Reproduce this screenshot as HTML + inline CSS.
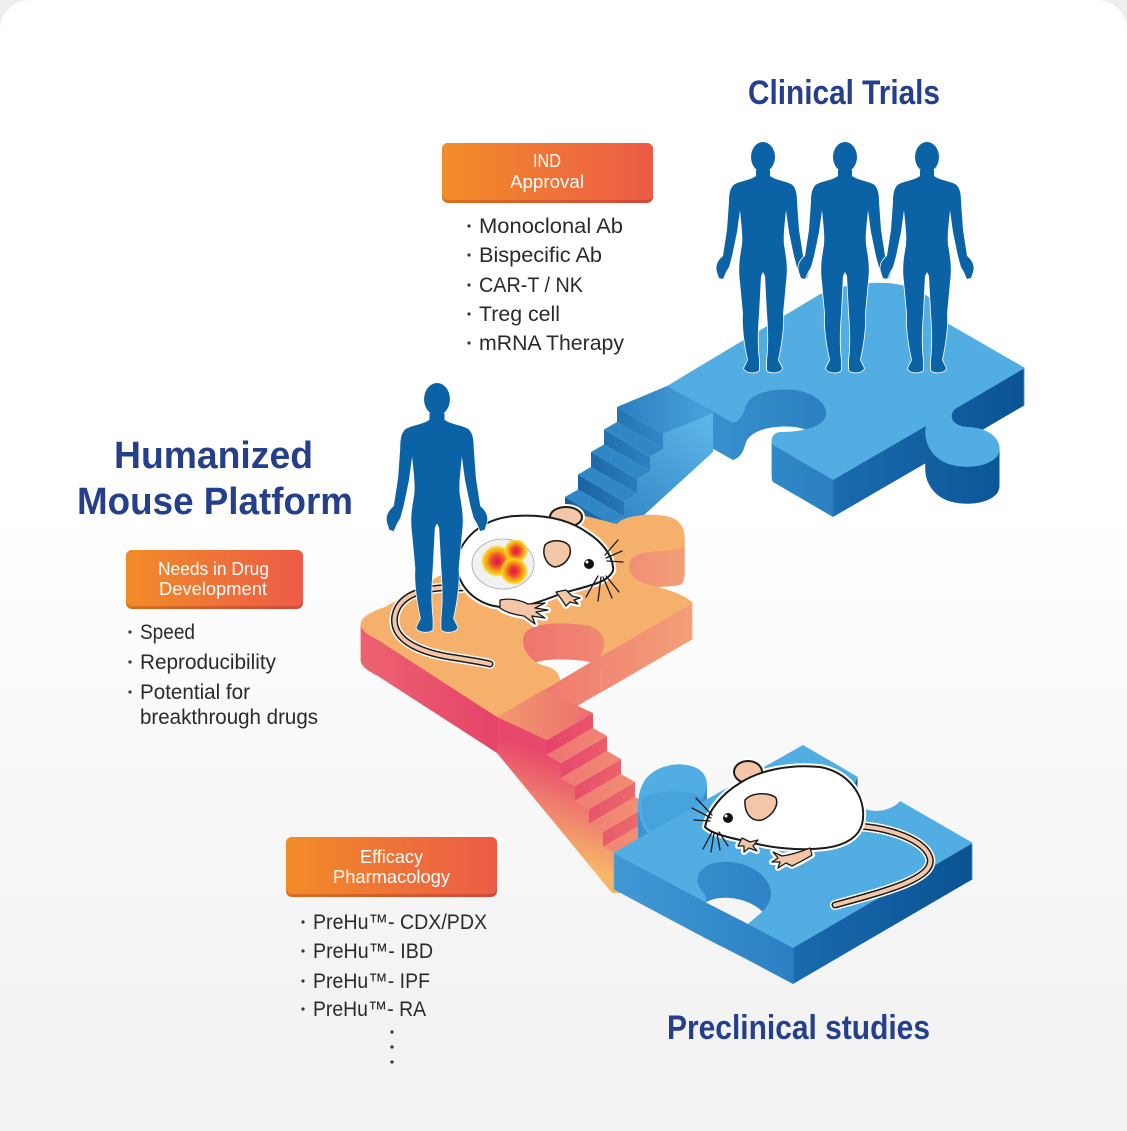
<!DOCTYPE html>
<html><head><meta charset="utf-8"><style>
html,body{margin:0;padding:0;}
body{width:1127px;height:1131px;overflow:hidden;background:#eeeeee;position:relative;font-family:"Liberation Sans","Noto Sans CJK KR",sans-serif;}
.card{position:absolute;left:0;top:0;width:1127px;height:1131px;border-radius:30px 30px 0 0;background:linear-gradient(180deg,#ffffff 0%,#ffffff 45%,#f3f3f3 88%,#f3f3f3 100%);}
svg{position:absolute;left:0;top:0;}
</style></head><body>
<div class="card"></div>
<svg width="1127" height="1131" viewBox="0 0 1127 1131" xmlns="http://www.w3.org/2000/svg">
<defs>
<linearGradient id="tbSide" gradientUnits="userSpaceOnUse" x1="660" y1="0" x2="1030" y2="0">
<stop offset="0" stop-color="#3e96d3"/><stop offset="0.466" stop-color="#2a80c0"/><stop offset="0.472" stop-color="#1a6baf"/><stop offset="1" stop-color="#0a5394"/></linearGradient>
<linearGradient id="opSide" gradientUnits="userSpaceOnUse" x1="355" y1="0" x2="695" y2="0">
<stop offset="0" stop-color="#ec6470"/><stop offset="0.417" stop-color="#e6436a"/><stop offset="0.43" stop-color="#ee6e6e"/><stop offset="1" stop-color="#f3a078"/></linearGradient>
<linearGradient id="bbSide" gradientUnits="userSpaceOnUse" x1="610" y1="0" x2="975" y2="0">
<stop offset="0" stop-color="#4199d6"/><stop offset="0.5" stop-color="#2a80c2"/><stop offset="0.507" stop-color="#1a6aad"/><stop offset="1" stop-color="#0a5293"/></linearGradient>
<linearGradient id="bsSide" gradientUnits="userSpaceOnUse" x1="713" y1="415" x2="600" y2="565">
<stop offset="0" stop-color="#5fb8ea"/><stop offset="1" stop-color="#2277b8"/></linearGradient>
<linearGradient id="bsRiser" gradientUnits="userSpaceOnUse" x1="560" y1="0" x2="660" y2="0">
<stop offset="0" stop-color="#145b9b"/><stop offset="1" stop-color="#2f87c6"/></linearGradient>
<linearGradient id="bsLand" gradientUnits="userSpaceOnUse" x1="617" y1="0" x2="713" y2="0">
<stop offset="0" stop-color="#2a7ebf"/><stop offset="1" stop-color="#4aa4dd"/></linearGradient>
<linearGradient id="osStr" gradientUnits="userSpaceOnUse" x1="535" y1="850" x2="565" y2="760">
<stop offset="0" stop-color="#f6b66a"/><stop offset="0.55" stop-color="#ee7a6e"/><stop offset="1" stop-color="#e8486b"/></linearGradient>
<linearGradient id="osRiser" gradientUnits="userSpaceOnUse" x1="547" y1="0" x2="677" y2="0">
<stop offset="0" stop-color="#e6436a"/><stop offset="1" stop-color="#ee7a6e"/></linearGradient>
<linearGradient id="osTread" gradientUnits="userSpaceOnUse" x1="547" y1="0" x2="677" y2="0">
<stop offset="0" stop-color="#ee7470"/><stop offset="1" stop-color="#f39a74"/></linearGradient>
<linearGradient id="osLand" gradientUnits="userSpaceOnUse" x1="497" y1="0" x2="593" y2="0">
<stop offset="0" stop-color="#f29a6e"/><stop offset="1" stop-color="#ec6e6e"/></linearGradient>
<linearGradient id="box" x1="0" y1="0" x2="1" y2="0">
<stop offset="0" stop-color="#f28c28"/><stop offset="1" stop-color="#ec5b47"/></linearGradient>
<linearGradient id="boxD" x1="0" y1="0" x2="1" y2="0">
<stop offset="0" stop-color="#d9701e"/><stop offset="1" stop-color="#d2473a"/></linearGradient>
<radialGradient id="tum">
<stop offset="0" stop-color="#e3104f"/><stop offset="0.35" stop-color="#ee4a2c"/><stop offset="0.65" stop-color="#f7a21b"/><stop offset="0.85" stop-color="#f9d11c"/><stop offset="1" stop-color="#f9d11c" stop-opacity="0"/></radialGradient>

<path id="tbTop" d="M 667,386 L 817,296 C 832,286 878,278 905,286 C 930,293 944,308 947,323 L 1025,368 L 955,409 C 948,416 952,426 968,427 C 992,428 1004,442 998,455 C 990,468 960,470 944,462 C 930,455 923,440 926,426 L 833,480 L 773,445 C 770,440 772,433 780,432 C 800,432 820,428 825,418 C 830,405 815,393 795,390 C 775,388 752,392 746,405 C 744,412 742,420 733,423 Z"/>
<path id="opTop" d="M 378,640 Q 340,622 385,607 L 553,511 C 575,512 600,520 617,524 C 622,516 650,512 670,517 C 686,522 687,540 682,548 C 670,553 645,548 632,558 C 625,568 630,580 650,585 C 670,590 685,595 693,603 L 600,657 C 608,645 605,628 585,625 C 560,622 530,622 524,635 C 520,648 530,662 545,666 C 555,668 560,674 560,681 L 497,717 Z"/>
<path id="bbTop" d="M 613,853 L 648,833 C 640,825 632,800 645,780 C 658,762 690,760 702,772 C 712,782 705,800 695,806 L 803,745 L 858,777 C 850,790 852,805 868,810 C 880,813 895,808 900,801 L 973,843 L 793,948 L 748,924 C 758,915 775,905 770,888 C 765,870 740,860 720,862 C 700,864 693,878 700,888 C 705,895 708,898 705,902 Z"/>
<path id="human" d="M -7,28 L -7,34 C -12,38 -22,39 -28,42 C -33,45 -34,52 -34,60 L -36,88 L -40,114 C -45,118 -48,124 -46,130 L -44,136 L -40,137 L -37,130 L -34,125 L -31,114 L -26,90 L -23,68 C -22,80 -20,92 -21,103 C -23,115 -25,125 -23,140 L -20,172 C -21,182 -19,200 -15,218 L -19,226 C -19,231 -6,232 -4,228 L -4,218 C -6,200 -5,185 -4,172 L -2,134 L 0,130 L 2,134 L 4,172 C 5,185 6,200 4,218 L 4,228 C 6,232 19,231 19,226 L 15,218 C 19,200 21,182 20,172 L 23,140 C 25,125 23,115 21,103 C 20,92 22,80 23,68 L 26,90 L 31,114 L 34,125 L 37,130 L 40,137 L 44,136 L 46,130 C 48,124 45,118 40,114 L 36,88 L 34,60 C 34,52 33,45 28,42 C 22,39 12,38 7,34 L 7,28 Z M -12,15 A 12,15 0 1,0 12,15 A 12,15 0 1,0 -12,15 Z"/>
</defs>

<!-- ===== Top blue piece ===== -->
<g fill="url(#tbSide)">
<use href="#tbTop" transform="translate(0,37)"/><use href="#tbTop" transform="translate(0,35)"/><use href="#tbTop" transform="translate(0,33)"/><use href="#tbTop" transform="translate(0,31)"/><use href="#tbTop" transform="translate(0,29)"/><use href="#tbTop" transform="translate(0,27)"/><use href="#tbTop" transform="translate(0,25)"/><use href="#tbTop" transform="translate(0,23)"/><use href="#tbTop" transform="translate(0,21)"/><use href="#tbTop" transform="translate(0,19)"/><use href="#tbTop" transform="translate(0,17)"/><use href="#tbTop" transform="translate(0,15)"/><use href="#tbTop" transform="translate(0,13)"/><use href="#tbTop" transform="translate(0,11)"/><use href="#tbTop" transform="translate(0,9)"/><use href="#tbTop" transform="translate(0,7)"/><use href="#tbTop" transform="translate(0,5)"/><use href="#tbTop" transform="translate(0,3)"/><use href="#tbTop" transform="translate(0,1)"/>
</g>
<use href="#tbTop" fill="#52aee2"/>

<!-- blue stairs -->
<polygon points="713,413 663,434 663,449 650,456.5 650,471.5 637,479 637,494 624,501.5 624,516.5 611,524 611,539 598,546.5 598,561.5 585,569 713,452" fill="url(#bsSide)"/>
<polygon points="667,386 713,413 663,434 617,407" fill="url(#bsLand)"/>
<g fill="url(#bsRiser)">
<polygon points="617,407 663,434 663,449 617,422"/>
<polygon points="604,429.5 650,456.5 650,471.5 604,444.5"/>
<polygon points="591,452 637,479 637,494 591,467"/>
<polygon points="578,474.5 624,501.5 624,516.5 578,489.5"/>
<polygon points="565,497 611,524 611,539 565,512"/>
<polygon points="552,519.5 598,546.5 598,561.5 552,534.5"/>
</g>
<g fill="#2f87c6">
<polygon points="617,422 663,449 650,456.5 604,429.5"/>
<polygon points="604,444.5 650,471.5 637,479 591,452"/>
<polygon points="591,467 637,494 624,501.5 578,474.5"/>
<polygon points="578,489.5 624,516.5 611,524 565,497"/>
<polygon points="565,512 611,539 598,546.5 552,519.5"/>
<polygon points="552,534.5 598,561.5 585,569 539,542"/>
</g>

<!-- clinical humans -->
<g fill="#0b63a5" stroke="#ffffff" stroke-width="1.6" paint-order="stroke" stroke-linejoin="round">
<use href="#human" transform="translate(763,142)"/>
<use href="#human" transform="translate(845,142)"/>
<use href="#human" transform="translate(927,142)"/>
</g>

<!-- ===== Orange piece ===== -->
<g fill="url(#opSide)">
<use href="#opTop" transform="translate(0,36)"/><use href="#opTop" transform="translate(0,34)"/><use href="#opTop" transform="translate(0,32)"/><use href="#opTop" transform="translate(0,30)"/><use href="#opTop" transform="translate(0,28)"/><use href="#opTop" transform="translate(0,26)"/><use href="#opTop" transform="translate(0,24)"/><use href="#opTop" transform="translate(0,22)"/><use href="#opTop" transform="translate(0,20)"/><use href="#opTop" transform="translate(0,18)"/><use href="#opTop" transform="translate(0,16)"/><use href="#opTop" transform="translate(0,14)"/><use href="#opTop" transform="translate(0,12)"/><use href="#opTop" transform="translate(0,10)"/><use href="#opTop" transform="translate(0,8)"/><use href="#opTop" transform="translate(0,6)"/><use href="#opTop" transform="translate(0,4)"/><use href="#opTop" transform="translate(0,2)"/>
</g>
<polygon points="559,681 601,656 601,692 559,717" fill="url(#opSide)"/>
<use href="#opTop" fill="#f5b06c"/>

<!-- mouse 1 tail -->
<path d="M 462,588 C 430,586 400,592 395,615 C 390,640 420,652 450,657 C 470,660 482,662 490,664" fill="none" stroke="#ffffff" stroke-width="10" stroke-linecap="round"/>
<path d="M 462,588 C 430,586 400,592 395,615 C 390,640 420,652 450,657 C 470,660 482,662 490,664" fill="none" stroke="#1a1a1a" stroke-width="7" stroke-linecap="round"/>
<path d="M 462,588 C 430,586 400,592 395,615 C 390,640 420,652 450,657 C 470,660 482,662 490,664" fill="none" stroke="#f3c6a8" stroke-width="4" stroke-linecap="round"/>

<!-- mouse 1 -->
<g stroke-linejoin="round">
<g stroke="#ffffff" stroke-width="6">
<ellipse cx="566" cy="517" rx="16" ry="10" fill="#f3c6a8"/>
<path d="M 613,567 C 612,555 602,542 588,533 C 570,520 545,514 515,516 C 485,518 465,535 458,555 C 453,575 465,597 490,605 C 515,612 540,602 560,594 C 580,588 600,584 607,578 C 612,574 614,570 613,567 Z" fill="#fff"/>
<path d="M 556,592 L 566,590 L 572,596 L 580,598 L 574,600 L 578,604 L 570,602 L 566,606 L 562,600 Z" fill="#f3c6a8"/>
<path d="M 500,600 C 510,598 520,600 528,604 L 545,603 L 535,608 L 548,610 L 536,612 L 545,618 L 532,616 L 535,624 L 524,616 C 515,615 505,612 500,608 Z" fill="#f3c6a8"/>
</g>
<g stroke="#1a1a1a" stroke-width="2">
<ellipse cx="566" cy="517" rx="16" ry="10" fill="#f3c6a8"/>
<path d="M 613,567 C 612,555 602,542 588,533 C 570,520 545,514 515,516 C 485,518 465,535 458,555 C 453,575 465,597 490,605 C 515,612 540,602 560,594 C 580,588 600,584 607,578 C 612,574 614,570 613,567 Z" fill="#fff"/>
<path d="M 545,545 C 552,538 568,540 570,548 C 572,556 565,566 555,567 C 548,566 541,556 545,545 Z" fill="#f3c6a8" stroke-width="1.5"/>
<path d="M 556,592 L 566,590 L 572,596 L 580,598 L 574,600 L 578,604 L 570,602 L 566,606 L 562,600 Z" fill="#f3c6a8" stroke-width="1.3"/>
<path d="M 500,600 C 510,598 520,600 528,604 L 545,603 L 535,608 L 548,610 L 536,612 L 545,618 L 532,616 L 535,624 L 524,616 C 515,615 505,612 500,608 Z" fill="#f3c6a8" stroke-width="1.3"/>
</g>
<g stroke="#1a1a1a" stroke-width="1.3" fill="none" stroke-linecap="round">
<path d="M 605,555 L 618,540 M 606,558 L 622,551 M 607,561 L 623,562 M 598,576 L 586,597 M 601,577 L 598,601 M 603,577 L 612,598 M 606,576 L 619,592"/>
</g>
<ellipse cx="503" cy="564" rx="31" ry="25" fill="#f1f1f1" stroke="#a8a8a8" stroke-width="0.8"/>
<circle cx="497" cy="561" r="16" fill="url(#tum)"/>
<circle cx="516" cy="551" r="12" fill="url(#tum)"/>
<circle cx="514" cy="571" r="14" fill="url(#tum)"/>
<circle cx="589" cy="564" r="5" fill="#111"/>
<circle cx="587" cy="562" r="1.5" fill="#fff"/>
</g>

<!-- human on orange -->
<use href="#human" transform="translate(437,383) scale(1.08)" fill="#0b63a5" stroke="#ffffff" stroke-width="1.4" paint-order="stroke" stroke-linejoin="round"/>

<!-- orange stairs -->
<polygon points="497,717 547,740 547,755 561,763 561,778 575,786 575,801 589,809 589,824 603,832 603,847 617,855 617,870 631,878 631,893 612,893 497,753" fill="url(#osStr)"/>
<polygon points="497,717 543,690 593,713 547,740" fill="url(#osLand)"/>
<g fill="url(#osRiser)">
<polygon points="547,740 593,713 593,728 547,755"/>
<polygon points="561,763 607,736 607,751 561,778"/>
<polygon points="575,786 621,759 621,774 575,801"/>
<polygon points="589,809 635,782 635,797 589,824"/>
<polygon points="603,832 649,805 649,820 603,847"/>
<polygon points="617,855 663,828 663,843 617,870"/>
<polygon points="631,878 677,851 677,866 631,893"/>
</g>
<g fill="url(#osTread)">
<polygon points="547,755 593,728 607,736 561,763"/>
<polygon points="561,778 607,751 621,759 575,786"/>
<polygon points="575,801 621,774 635,782 589,809"/>
<polygon points="589,824 635,797 649,805 603,832"/>
<polygon points="603,847 649,820 663,828 617,855"/>
<polygon points="617,870 663,843 677,851 631,878"/>
</g>

<!-- ===== Bottom blue piece ===== -->
<g fill="url(#bbSide)">
<use href="#bbTop" transform="translate(0,36)"/><use href="#bbTop" transform="translate(0,34)"/><use href="#bbTop" transform="translate(0,32)"/><use href="#bbTop" transform="translate(0,30)"/><use href="#bbTop" transform="translate(0,28)"/><use href="#bbTop" transform="translate(0,26)"/><use href="#bbTop" transform="translate(0,24)"/><use href="#bbTop" transform="translate(0,22)"/><use href="#bbTop" transform="translate(0,20)"/><use href="#bbTop" transform="translate(0,18)"/><use href="#bbTop" transform="translate(0,16)"/><use href="#bbTop" transform="translate(0,14)"/><use href="#bbTop" transform="translate(0,12)"/><use href="#bbTop" transform="translate(0,10)"/><use href="#bbTop" transform="translate(0,8)"/><use href="#bbTop" transform="translate(0,6)"/><use href="#bbTop" transform="translate(0,4)"/><use href="#bbTop" transform="translate(0,2)"/>
</g>
<polygon points="703,901 750,925 750,961 703,937" fill="url(#bbSide)"/>
<use href="#bbTop" fill="#52aee2"/>
<path d="M 642,800 C 650,790 690,788 704,798 C 700,806 694,808 690,810 L 650,832 C 644,826 640,812 642,800 Z" fill="#44a0da" opacity="0.8"/>

<!-- mouse 2 tail -->
<path d="M 858,826 C 890,828 925,840 930,858 C 935,878 890,890 835,905" fill="none" stroke="#ffffff" stroke-width="10" stroke-linecap="round"/>
<path d="M 858,826 C 890,828 925,840 930,858 C 935,878 890,890 835,905" fill="none" stroke="#1a1a1a" stroke-width="7" stroke-linecap="round"/>
<path d="M 858,826 C 890,828 925,840 930,858 C 935,878 890,890 835,905" fill="none" stroke="#f3c6a8" stroke-width="4" stroke-linecap="round"/>

<!-- mouse 2 -->
<g stroke-linejoin="round">
<g stroke="#ffffff" stroke-width="6">
<ellipse cx="748" cy="772" rx="14" ry="11" fill="#f3c6a8"/>
<path d="M 705,827 C 708,812 720,795 740,783 C 760,770 790,764 820,767 C 848,772 865,795 863,818 C 862,835 848,845 825,848 C 800,851 770,848 750,842 C 730,838 712,834 705,827 Z" fill="#fff"/>
<path d="M 742,838 L 750,842 L 758,840 L 753,846 L 757,851 L 749,848 L 744,852 L 744,846 L 738,846 Z" fill="#f3c6a8"/>
<path d="M 810,848 C 800,852 790,855 782,856 L 773,852 L 778,858 L 772,862 L 780,862 L 778,868 L 786,863 L 792,866 C 800,862 808,858 812,855 Z" fill="#f3c6a8"/>
</g>
<g stroke="#1a1a1a" stroke-width="2">
<ellipse cx="748" cy="772" rx="14" ry="11" fill="#f3c6a8"/>
<path d="M 705,827 C 708,812 720,795 740,783 C 760,770 790,764 820,767 C 848,772 865,795 863,818 C 862,835 848,845 825,848 C 800,851 770,848 750,842 C 730,838 712,834 705,827 Z" fill="#fff"/>
<path d="M 745,800 C 752,792 770,792 776,798 C 779,806 772,816 762,820 C 752,822 744,814 745,800 Z" fill="#f3c6a8" stroke-width="1.5"/>
<path d="M 742,838 L 750,842 L 758,840 L 753,846 L 757,851 L 749,848 L 744,852 L 744,846 L 738,846 Z" fill="#f3c6a8" stroke-width="1.3"/>
<path d="M 810,848 C 800,852 790,855 782,856 L 773,852 L 778,858 L 772,862 L 780,862 L 778,868 L 786,863 L 792,866 C 800,862 808,858 812,855 Z" fill="#f3c6a8" stroke-width="1.3"/>
</g>
<g stroke="#1a1a1a" stroke-width="1.3" fill="none" stroke-linecap="round">
<path d="M 712,815 L 696,798 M 711,818 L 692,808 M 710,821 L 694,820 M 712,832 L 703,849 M 714,833 L 711,852 M 717,833 L 720,850 M 719,832 L 728,846"/>
</g>
<circle cx="728" cy="818" r="5" fill="#111"/>
<circle cx="726" cy="816" r="1.5" fill="#fff"/>
</g>

<!-- ===== Titles ===== -->
<g fill="#253f8c" font-family="Liberation Sans, Noto Sans CJK KR, sans-serif" font-weight="700">
<text x="748" y="104" font-size="34" textLength="192" lengthAdjust="spacingAndGlyphs">Clinical Trials</text>
<text x="114" y="468" font-size="38" textLength="199" lengthAdjust="spacingAndGlyphs">Humanized</text>
<text x="77" y="514" font-size="38" textLength="276" lengthAdjust="spacingAndGlyphs">Mouse Platform</text>
<text x="667" y="1039" font-size="34" textLength="263" lengthAdjust="spacingAndGlyphs">Preclinical studies</text>
</g>

<!-- ===== Orange boxes ===== -->
<rect x="442" y="143" width="211" height="60" rx="6" fill="url(#boxD)"/>
<rect x="442" y="143" width="211" height="57" rx="6" fill="url(#box)"/>
<rect x="126" y="550" width="177" height="59" rx="6" fill="url(#boxD)"/>
<rect x="126" y="550" width="177" height="56" rx="6" fill="url(#box)"/>
<rect x="286" y="837" width="211" height="60" rx="6" fill="url(#boxD)"/>
<rect x="286" y="837" width="211" height="57" rx="6" fill="url(#box)"/>
<g fill="#ffffff" font-family="Liberation Sans, Noto Sans CJK KR, sans-serif" font-size="18">
<text x="533" y="167" textLength="28" lengthAdjust="spacingAndGlyphs">IND</text>
<text x="510" y="188" textLength="74" lengthAdjust="spacingAndGlyphs">Approval</text>
<text x="158" y="575" textLength="111" lengthAdjust="spacingAndGlyphs">Needs in Drug</text>
<text x="159" y="595" textLength="108" lengthAdjust="spacingAndGlyphs">Development</text>
<text x="360" y="863" textLength="63" lengthAdjust="spacingAndGlyphs">Efficacy</text>
<text x="333" y="883" textLength="117" lengthAdjust="spacingAndGlyphs">Pharmacology</text>
</g>

<!-- ===== Lists ===== -->
<g fill="#2a2a2a" font-family="Liberation Sans, Noto Sans CJK KR, sans-serif" font-size="21">
<text x="479" y="233" textLength="144" lengthAdjust="spacingAndGlyphs">Monoclonal Ab</text>
<text x="479" y="262" textLength="123" lengthAdjust="spacingAndGlyphs">Bispecific Ab</text>
<text x="479" y="292" textLength="104" lengthAdjust="spacingAndGlyphs">CAR-T / NK</text>
<text x="479" y="321" textLength="81" lengthAdjust="spacingAndGlyphs">Treg cell</text>
<text x="479" y="350" textLength="145" lengthAdjust="spacingAndGlyphs">mRNA Therapy</text>
<text x="140" y="639" textLength="55" lengthAdjust="spacingAndGlyphs">Speed</text>
<text x="140" y="669" textLength="136" lengthAdjust="spacingAndGlyphs">Reproducibility</text>
<text x="140" y="699" textLength="110" lengthAdjust="spacingAndGlyphs">Potential for</text>
<text x="140" y="724" textLength="178" lengthAdjust="spacingAndGlyphs">breakthrough drugs</text>
<text x="313" y="929" textLength="174" lengthAdjust="spacingAndGlyphs">PreHu™- CDX/PDX</text>
<text x="313" y="958" textLength="120" lengthAdjust="spacingAndGlyphs">PreHu™- IBD</text>
<text x="313" y="988" textLength="117" lengthAdjust="spacingAndGlyphs">PreHu™- IPF</text>
<text x="313" y="1016" textLength="113" lengthAdjust="spacingAndGlyphs">PreHu™- RA</text>
</g>
<g fill="#333">
<circle cx="469" cy="226" r="1.6"/><circle cx="469" cy="255" r="1.6"/><circle cx="469" cy="285" r="1.6"/><circle cx="469" cy="314" r="1.6"/><circle cx="469" cy="343" r="1.6"/>
<circle cx="130" cy="632" r="1.6"/><circle cx="130" cy="662" r="1.6"/><circle cx="130" cy="692" r="1.6"/>
<circle cx="303" cy="922" r="1.6"/><circle cx="303" cy="951" r="1.6"/><circle cx="303" cy="981" r="1.6"/><circle cx="303" cy="1009" r="1.6"/>
<circle cx="392" cy="1032" r="1.6"/><circle cx="392" cy="1047" r="1.6"/><circle cx="392" cy="1062" r="1.6"/>
</g>
</svg>
</body></html>
